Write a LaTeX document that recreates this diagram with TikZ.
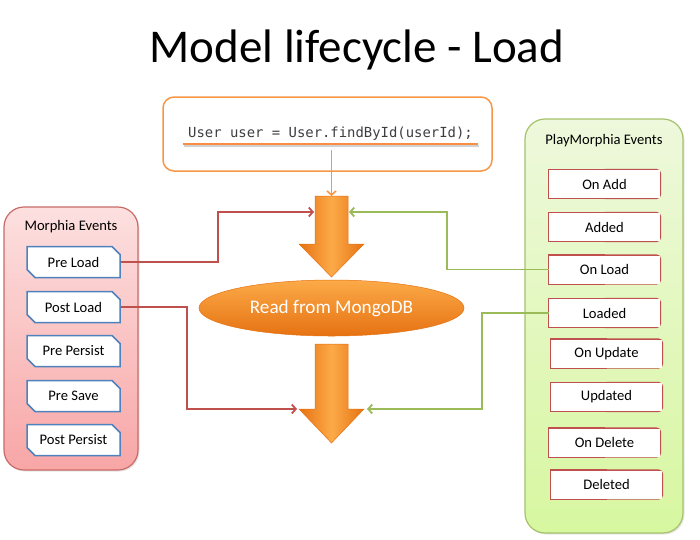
\documentclass[tikz,border=0pt]{standalone}
\usepackage{fontspec}
\setmainfont{Carlito}
\newfontfamily\codefont{DejaVu Sans Mono}
\usepackage{xcolor}
\usetikzlibrary{arrows.meta, shapes.geometric, shapes.misc, shadows}
\definecolor{flowOrange}{RGB}{247,150,70}
\definecolor{arrowDark}{RGB}{230,114,18}
\definecolor{arrowLight}{RGB}{252,170,72}
\definecolor{morphiaRed}{RGB}{192,80,77}
\definecolor{morphiaTop}{RGB}{253,224,224}
\definecolor{morphiaBottom}{RGB}{248,166,166}
\definecolor{playGreen}{RGB}{155,187,89}
\definecolor{playTop}{RGB}{238,248,220}
\definecolor{playBottom}{RGB}{215,247,160}
\definecolor{eventBlue}{RGB}{79,129,189}
\definecolor{codeGrey}{RGB}{62,62,66}
\tikzset{every picture/.style={line width=0.75pt},
  labelfont/.style={font=\fontsize{14.6}{17}\selectfont},
  panel/.style={draw, line width=1.2pt, rounded corners=20pt,
    drop shadow={shadow xshift=1.5pt, shadow yshift=-1.5pt, opacity=0.2}},
  morphiapanel/.style={panel, draw=morphiaRed!85, top color=morphiaTop, bottom color=morphiaBottom,
    minimum width=134pt, minimum height=263pt},
  playpanel/.style={panel, draw=playGreen!90, top color=playTop, bottom color=playBottom,
    minimum width=158pt, minimum height=414pt},
  eventbox/.style={chamfered rectangle, chamfered rectangle corners={north east, south west},
    chamfered rectangle xsep=4pt, chamfered rectangle ysep=4pt, draw=eventBlue, line width=1.5pt,
    fill=white, minimum width=93pt, minimum height=31pt, inner sep=0pt, labelfont},
  playbox/.style={fill=white, minimum width=111pt, minimum height=28pt, inner sep=0pt, labelfont,
    append after command={\pgfextra{%
      \draw[morphiaRed, line width=1.6pt] (\tikzlastnode.north) -- (\tikzlastnode.north west)
        -- (\tikzlastnode.south west) -- (\tikzlastnode.south);
      \draw[morphiaRed, line width=1.6pt, rounded corners=4pt] (\tikzlastnode.north)
        -- (\tikzlastnode.north east) -- (\tikzlastnode.south east) -- (\tikzlastnode.south);}}},
  codebox/.style={draw=flowOrange, line width=1.5pt, rounded corners=11pt,
    minimum width=329pt, minimum height=74pt},
  codeline/.style={draw=flowOrange!95!red, line width=2.5pt,
    preaction={draw=black!18, line width=2pt, transform canvas={xshift=1pt, yshift=-2.5pt}}},
  blockarrow/.style={left color=arrowDark, right color=arrowDark, middle color=arrowLight,
    draw=arrowDark, line width=0.5pt},
  readnode/.style={ellipse, top color=arrowLight, bottom color=arrowDark, draw=arrowDark,
    line width=0.5pt, minimum width=265pt, minimum height=56pt, text=white,
    font=\fontsize{19.2}{22}\selectfont},
  link/.style={line width=1.8pt, -{Straight Barb[length=4pt, width=9pt]}},
  redlink/.style={link, draw=morphiaRed},
  greenlink/.style={link, draw=playGreen},
  codelink/.style={link, draw=flowOrange, line width=1.6pt}
}

\begin{document}
\begin{tikzpicture}[x=1pt,y=1pt,yscale=-1,xscale=1]
%set diagram size
\useasboundingbox (0,0) rectangle (700,539);
% Title
\node (title) [anchor=base, font=\fontsize{47}{56}\selectfont] at (357,62) {Model lifecycle - Load};
%Shape: Code Box
\node (codebox) [codebox] at (327.5,134) {};
% Code Text
\node (code) [anchor=base, font=\codefont\fontsize{13.9}{17}\selectfont, text=codeGrey,
  inner xsep=5pt, inner ysep=3.5pt] at (330.5,137) {User user = User.findById(userId);};
\draw [codeline] (code.south west) -- (code.south east);
%Shape: Block Arrows
\draw [blockarrow] (315,196) -- (348,196) -- (348,244) -- (364,244) -- (331.5,277) -- (299,244) -- (315,244) -- cycle;
\draw [blockarrow] (315,344) -- (348,344) -- (348,409) -- (364,409) -- (331.5,443) -- (299,409) -- (315,409) -- cycle;
%Shape: Ellipse
\node (read) [readnode] at (331.5,308) {Read from MongoDB};
%Arrow ends
\coordinate (codeOut) at (331.5,150);
\coordinate (loadTop) at (331.5,196);
\coordinate (preIn) at (314,212);
\coordinate (onIn) at (349,212);
\coordinate (postIn) at (297,409);
\coordinate (loadedIn) at (367,409);
%Shape: Morphia Events
\node (morphia) [morphiapanel] at (71,338.5) {};
\node (morphiaTitle) [labelfont] at (71,227) {Morphia Events};
\node (preload) [eventbox] at (73.5,262) {Pre Load};
\node (postload) [eventbox] at (73.5,307) {Post Load};
\node (prepersist) [eventbox] at (73.5,351) {Pre Persist};
\node (presave) [eventbox] at (73.5,396) {Pre Save};
\node (postpersist) [eventbox] at (73.5,440) {Post Persist};
%Shape: PlayMorphia Events
\node (play) [playpanel] at (604,326) {};
\node (playTitle) [labelfont] at (604,141) {PlayMorphia Events};
\node (onadd) [playbox] at (604.5,184) {On Add};
\node (added) [playbox] at (604.5,227) {Added};
\node (onload) [playbox] at (604.5,269.5) {On Load};
\node (loaded) [playbox] at (604.5,313) {Loaded};
\node (onupdate) [playbox] at (606.5,353.5) {On Update};
\node (updated) [playbox] at (606.5,397) {Updated};
\node (ondelete) [playbox] at (604.5,442.5) {On Delete};
\node (deleted) [playbox] at (606.5,484.5) {Deleted};
%Connectors
\draw [codelink] (codeOut) -- (loadTop);
\draw [redlink] (preload.east) -- ++(97,0) |- (preIn);
\draw [greenlink] (onload.west) -- ++(-102,0) |- (onIn);
\draw [redlink] (postload.east) -- ++(66,0) |- (postIn);
\draw [greenlink] (loaded.west) -- ++(-67,0) |- (loadedIn);
\end{tikzpicture}
\end{document}
